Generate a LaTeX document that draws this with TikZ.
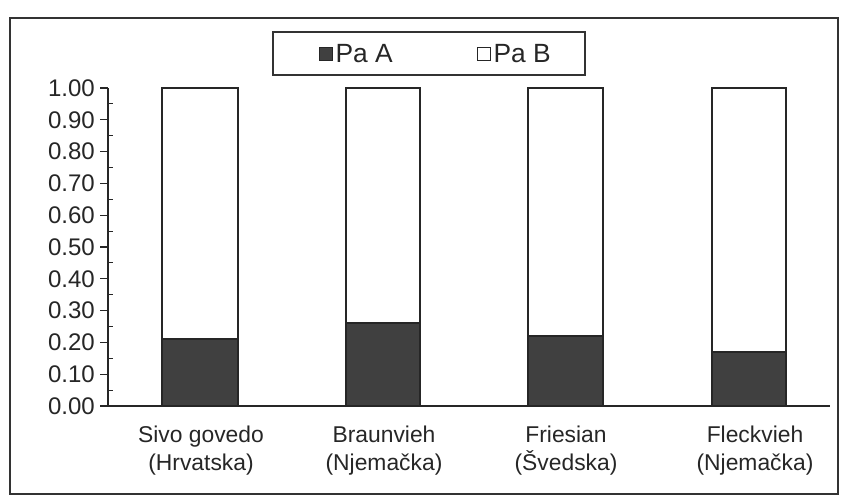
\documentclass[tikz,border=0pt]{standalone}
\usepackage{fontspec}
\setmainfont{Liberation Sans}
\usetikzlibrary{positioning}
\tikzset{
  frameline/.style={draw=black!80, line width=1.1pt},
  axisline/.style={draw=black!85, line width=0.9pt},
  barbox/.style={draw=black!85, line width=1.3pt, fill=white},
  paa/.style={draw=black!85, line width=1.3pt, fill=black!75},
  ticklabel/.style={anchor=east, inner sep=0pt, text=black!85, font=\fontsize{20.5}{22}\selectfont},
  catlabel/.style={align=center, inner sep=0pt, text=black!85, font=\fontsize{19.5}{24}\selectfont},
  keybox/.style={draw=black!85, line width=0.8pt, minimum size=13*0.03cm, inner sep=0pt},
  keytext/.style={inner sep=0pt, text=black!85, font=\fontsize{22.5}{24}\selectfont},
}
\begin{document}
\begin{tikzpicture}[x=0.03cm,y=-0.03cm]
\useasboundingbox (0,0) rectangle (845,502);
% outer frame
\draw[frameline] (10,18) rectangle (838,494);
% legend
\draw[frameline, line width=0.9pt] (273,32) rectangle (585,75);
\node[keybox, fill=black!75] (keya) at (326,54) {};
\node[keytext, anchor=west, right=2pt of keya] (texta) {Pa A};
\node[keybox, fill=white] (keyb) at (484,54) {};
\node[keytext, anchor=west, right=2pt of keyb] (textb) {Pa B};
% y axis with ticks
\draw[axisline] (108,88) -- (108,406);
\foreach \v [count=\i from 0] in {0.00,0.10,0.20,0.30,0.40,0.50,0.60,0.70,0.80,0.90,1.00} {
  \draw[axisline] (100,406-31.8*\i) -- (108,406-31.8*\i);
  \node[ticklabel] (tick\i) at (95,406-31.8*\i) {\v};
}
\foreach \i in {0,...,9}
  \draw[axisline] (108,406-31.8*\i-15.9) -- (113,406-31.8*\i-15.9);
% bars: Pa A below, Pa B above
\draw[barbox] (162,88) rectangle (238,406);
\draw[paa] (162,406) rectangle (238,339);
\draw[barbox] (346,88) rectangle (420,406);
\draw[paa] (346,406) rectangle (420,323);
\draw[barbox] (528,88) rectangle (603,406);
\draw[paa] (528,406) rectangle (603,336);
\draw[barbox] (712,88) rectangle (786,406);
\draw[paa] (712,406) rectangle (786,352);
% x axis
\draw[axisline] (108,406) -- (830,406);
% categories
\node[catlabel] (cat1) at (201,451) {Sivo govedo\\(Hrvatska)};
\node[catlabel] (cat2) at (384,451) {Braunvieh\\(Njemačka)};
\node[catlabel] (cat3) at (566,451) {Friesian\\(Švedska)};
\node[catlabel] (cat4) at (755,451) {Fleckvieh\\(Njemačka)};
\end{tikzpicture}
\end{document}
